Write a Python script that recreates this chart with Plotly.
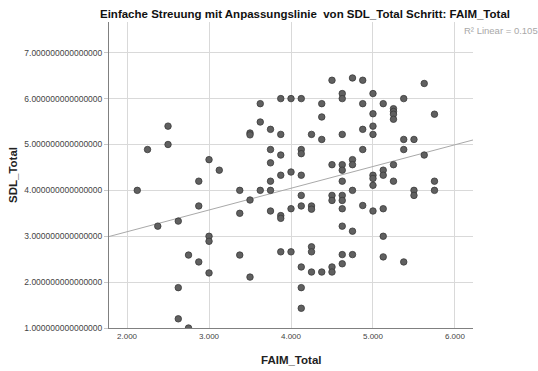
import plotly.graph_objects as go

# Scatter data: FAIM_Total (x) and SDL_Total (y)
faim_total = [
    2.125, 2.25, 2.375, 2.5, 2.5, 2.625, 2.625, 2.625, 2.75, 2.75,
    2.875, 2.875, 2.875, 3.0, 3.0, 3.0, 3.0, 3.125, 3.375, 3.375,
    3.375, 3.5, 3.5, 3.5, 3.5, 3.625, 3.625, 3.625, 3.75, 3.75,
    3.75, 3.75, 3.75, 3.75, 3.875, 3.875, 3.875, 3.875, 3.875, 3.875,
    3.875, 4.0, 4.0, 4.0, 4.0, 4.125, 4.125, 4.125, 4.125, 4.125,
    4.125, 4.125, 4.125, 4.125, 4.25, 4.25, 4.25, 4.25, 4.25, 4.25,
    4.375, 4.375, 4.375, 4.375, 4.5, 4.5, 4.5, 4.5, 4.5, 4.5,
    4.625, 4.625, 4.625, 4.625, 4.625, 4.625, 4.625, 4.625, 4.625, 4.625,
    4.625, 4.625, 4.75, 4.75, 4.75, 4.75, 4.75, 4.75, 4.875, 4.875,
    4.875, 4.875, 4.875, 5.0, 5.0, 5.0, 5.0, 5.0, 5.0, 5.0,
    5.0, 5.125, 5.125, 5.125, 5.125, 5.125, 5.125, 5.25, 5.25, 5.25,
    5.25, 5.25, 5.25, 5.375, 5.375, 5.375, 5.375, 5.5, 5.5, 5.5,
    5.625, 5.625, 5.75, 5.75, 5.75,
]
sdl_total = [
    4.00, 4.89, 3.22, 5.40, 5.00, 3.33, 1.88, 1.20, 2.59, 1.00,
    4.20, 3.66, 2.44, 4.67, 3.00, 2.89, 2.20, 4.44, 4.00, 3.50,
    2.59, 5.25, 5.21, 3.79, 2.11, 5.89, 5.49, 4.00, 5.33, 4.89,
    4.60, 4.20, 4.00, 3.55, 6.00, 5.22, 4.77, 4.33, 3.45, 3.39,
    2.66, 6.00, 4.40, 3.60, 2.66, 6.00, 4.89, 4.80, 4.33, 3.89,
    3.66, 2.33, 1.88, 1.43, 5.22, 3.66, 3.59, 2.77, 2.66, 2.22,
    5.89, 5.60, 5.11, 2.22, 6.40, 4.56, 3.89, 3.78, 2.33, 2.22,
    6.11, 6.00, 5.22, 4.56, 4.44, 4.20, 3.89, 3.78, 3.60, 3.22,
    2.60, 2.40, 6.45, 4.67, 4.56, 4.00, 3.11, 2.60, 6.40, 5.89,
    5.33, 4.89, 3.67, 6.11, 5.67, 5.40, 5.22, 4.33, 4.26, 4.11,
    3.55, 5.89, 4.44, 4.33, 3.60, 3.00, 2.55, 5.78, 5.72, 5.66,
    5.55, 4.56, 4.20, 6.00, 5.11, 4.89, 2.44, 5.11, 4.00, 3.89,
    6.33, 4.77, 5.66, 4.20, 4.00,
]

# Linear fit line (SPSS "Anpassungslinie")
fit_intercept = 2.150
fit_slope = 0.474
r_squared = 0.105

x_ticks = [2, 3, 4, 5, 6]
x_tick_labels = ["2.000", "3.000", "4.000", "5.000", "6.000"]
y_ticks = [1, 2, 3, 4, 5, 6, 7]
y_tick_labels = [f"{v:.15f}" for v in y_ticks]

x_range = [1.78, 6.22]
y_range = [1.0, 7.67]

FONT = "Liberation Sans, Arial, sans-serif"

fig = go.Figure()

fit_x = list(x_range)
fit_y = [fit_intercept + fit_slope * v for v in fit_x]
fig.add_trace(go.Scatter(
    x=fit_x, y=fit_y, mode="lines",
    line=dict(color="#a9a9a9", width=1),
    hoverinfo="skip", showlegend=False,
))

fig.add_trace(go.Scatter(
    x=faim_total, y=sdl_total, mode="markers",
    marker=dict(size=6.5, color="#606060",
                line=dict(color="#3a3a3a", width=0.8)),
    showlegend=False,
))

fig.update_layout(
    width=538, height=371,
    margin=dict(l=109, r=65, t=22, b=43),
    paper_bgcolor="white", plot_bgcolor="white",
    font=dict(family=FONT, color="#333333"),
    title=dict(
        text="<b>Einfache Streuung mit Anpassungslinie\u00a0 von SDL_Total Schritt: FAIM_Total</b>",
        x=305 / 538, xref="container", xanchor="center",
        y=1 - 14 / 371, yref="container", yanchor="middle",
        font=dict(size=11.5, color="#111111", family=FONT),
    ),
    xaxis=dict(
        range=x_range, tickvals=x_ticks, ticktext=x_tick_labels,
        showgrid=True, gridcolor="#d9d9d9", gridwidth=1,
        zeroline=False, showline=True, linecolor="#808080", linewidth=1,
        ticks="", tickfont=dict(size=8, color="#444444"),
    ),
    yaxis=dict(
        range=y_range, tickvals=y_ticks, ticktext=y_tick_labels,
        showgrid=True, gridcolor="#d9d9d9", gridwidth=1,
        zeroline=False, showline=True, linecolor="#808080", linewidth=1,
        ticks="outside", ticklen=4, tickcolor="#c8c8c8",
        tickfont=dict(size=8.5, color="#444444"),
    ),
    annotations=[
        dict(text="<b>FAIM_Total</b>", xref="paper", yref="paper",
             x=0.5, y=(328 - 360) / 306, xanchor="center", yanchor="middle",
             showarrow=False, font=dict(size=11.5, color="#222222", family=FONT)),
        dict(text="<b>SDL_Total</b>", xref="paper", yref="paper",
             x=(13 - 109) / 364, y=0.5, xanchor="center", yanchor="middle",
             textangle=-90, showarrow=False,
             font=dict(size=11.5, color="#222222", family=FONT)),
        dict(text=f"R² Linear = {r_squared:.3f}", xref="paper", yref="paper",
             x=(462 - 109) / 364, y=(328 - 30) / 306, xanchor="left", yanchor="middle",
             showarrow=False, font=dict(size=9.5, color="#a8a8a8", family=FONT)),
    ],
)

fig.write_html("out.html")
